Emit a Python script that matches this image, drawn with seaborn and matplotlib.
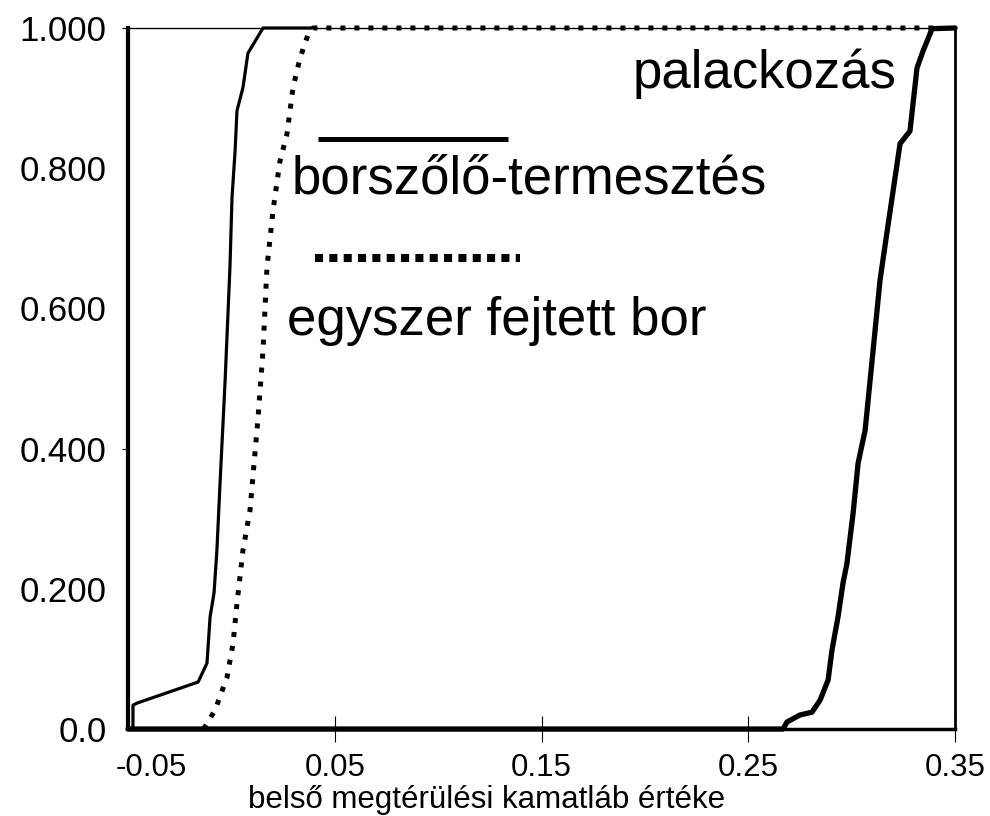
import matplotlib
matplotlib.use("Agg")
import matplotlib.pyplot as plt
import seaborn as sns
import pandas as pd
from matplotlib.lines import Line2D
from matplotlib.transforms import ScaledTranslation

# ---- data ----
borszolo_x = [-0.0490, -0.0476, -0.0476, -0.0456, -0.0161, -0.0118, -0.0103, -0.0084, -0.0070,
              -0.0055, -0.0031, -0.0007, 0.0003, 0.0018, 0.0027, 0.0056, 0.0080, 0.0153, 0.0395]
borszolo_y = [0.0, 0.003, 0.034, 0.037, 0.067, 0.094, 0.160, 0.194, 0.255,
              0.350, 0.493, 0.658, 0.758, 0.825, 0.882, 0.915, 0.964, 1.0, 1.0]

egyszer_x = [-0.0135, -0.0128, -0.0079, -0.0021, 0.0008, 0.0027, 0.0056, 0.0090, 0.0129, 0.0153,
             0.0172, 0.0201, 0.0235, 0.0269, 0.0298, 0.0332, 0.0371, 0.0395, 0.3400]
egyszer_y = [0.0, 0.003, 0.027, 0.074, 0.122, 0.179, 0.255, 0.312, 0.444, 0.540,
             0.658, 0.739, 0.810, 0.849, 0.915, 0.957, 0.991, 1.0, 1.0]

palack_x = [-0.05, 0.2668, 0.2687, 0.2750, 0.2808, 0.2847, 0.2886, 0.2905, 0.2934, 0.2958, 0.2977,
            0.3007, 0.3031, 0.3065, 0.3089, 0.3113, 0.3137, 0.3161, 0.3234, 0.3282, 0.3316,
            0.3345, 0.3389, 0.3500]
palack_y = [0.0, 0.0, 0.010, 0.020, 0.024, 0.041, 0.070, 0.113, 0.160, 0.208, 0.236,
            0.308, 0.379, 0.426, 0.497, 0.568, 0.640, 0.689, 0.835, 0.853, 0.943,
            0.967, 0.999, 1.0]

x_ticks = [-0.05, 0.05, 0.15, 0.25, 0.35]
x_ticklabels = ["-0.05", "0.05", "0.15", "0.25", "0.35"]
y_ticks = [1.0, 0.8, 0.6, 0.4, 0.2, 0.0]
y_ticklabels = ["1.000", "0.800", "0.600", "0.400", "0.200", "0.0"]
x_label = "belső megtérülési kamatláb értéke"
name_palack = "palackozás"
name_borszolo = "borszőlő-termesztés"
name_egyszer = "egyszer fejtett bor"

# ---- style ----
sns.set_theme(style="white")
plt.rcParams["font.family"] = ["Liberation Sans", "DejaVu Sans"]
plt.rcParams["text.color"] = "black"
plt.rcParams["axes.labelcolor"] = "black"
plt.rcParams["xtick.color"] = "black"
plt.rcParams["ytick.color"] = "black"

fig = plt.figure(figsize=(9.9, 8.16), dpi=100)
ax = fig.add_axes([0.1293, 0.1066, 0.8354, 0.8591])

df_b = pd.DataFrame({"x": borszolo_x, "y": borszolo_y})
df_e = pd.DataFrame({"x": egyszer_x, "y": egyszer_y})
df_p = pd.DataFrame({"x": palack_x, "y": palack_y})

sns.lineplot(data=df_b, x="x", y="y", ax=ax, color="black", lw=2.3,
             estimator=None, sort=False)
ax.lines[-1].set_clip_on(False)
sns.lineplot(data=df_e, x="x", y="y", ax=ax, color="black", lw=3.6,
             linestyle=(0, (1, 1.8)), estimator=None, sort=False)
ax.lines[-1].set_clip_on(False)
ax.lines[-1].set_dash_capstyle("butt")
sns.lineplot(data=df_p, x="x", y="y", ax=ax, color="black", lw=3.8,
             estimator=None, sort=False)
ax.lines[-1].set_clip_on(False)

ax.set_xlim(-0.05, 0.35)
ax.set_ylim(0, 1)

# spines
for side, w in {"left": 3.0, "bottom": 2.5, "top": 1.0, "right": 2.0}.items():
    ax.spines[side].set_visible(True)
    ax.spines[side].set_color("black")
    ax.spines[side].set_linewidth(w)

ax.set_xticks(x_ticks)
ax.set_xticklabels(x_ticklabels)
ax.set_yticks(y_ticks)
ax.set_yticklabels(y_ticklabels)
ax.tick_params(axis="x", bottom=True, direction="inout", length=19, width=0.8,
               pad=8, labelsize=22.5)
ax.tick_params(axis="y", left=True, direction="out", length=4.5, width=0.8,
               pad=11, labelsize=25)

for i, t in enumerate(ax.yaxis.get_major_ticks()):
    if y_ticklabels[i] not in ("1.000", "0.400"):
        t.tick1line.set_visible(False)
xt = ax.xaxis.get_major_ticks()
xt[0].tick1line.set_visible(False)
lab0 = xt[0].label1
lab0.set_transform(lab0.get_transform() + ScaledTranslation(0.23, 0, fig.dpi_scale_trans))

ax.set_xlabel(x_label, fontsize=22.5)
ax.xaxis.set_label_coords(0.433, -0.1127)
ax.xaxis.label.set_va("baseline")
ax.set_ylabel("")

# in-plot labels and key lines
ax.text(0.6106, 0.9144, name_palack, transform=ax.transAxes, fontsize=38, va="baseline")
ax.text(0.1983, 0.7646, name_borszolo, transform=ax.transAxes, fontsize=38, va="baseline")
ax.text(0.1923, 0.5620, name_egyszer, transform=ax.transAxes, fontsize=38, va="baseline")
ax.add_line(Line2D([0.2297, 0.4595], [0.8417, 0.8417], transform=ax.transAxes,
                   color="black", lw=3.6, solid_capstyle="butt"))
ax.add_line(Line2D([0.2261, 0.4740], [0.6719, 0.6719], transform=ax.transAxes,
                   color="black", lw=5.8, linestyle=(0, (1, 0.78)), dash_capstyle="butt"))

fig.savefig("out.png", dpi=100)
